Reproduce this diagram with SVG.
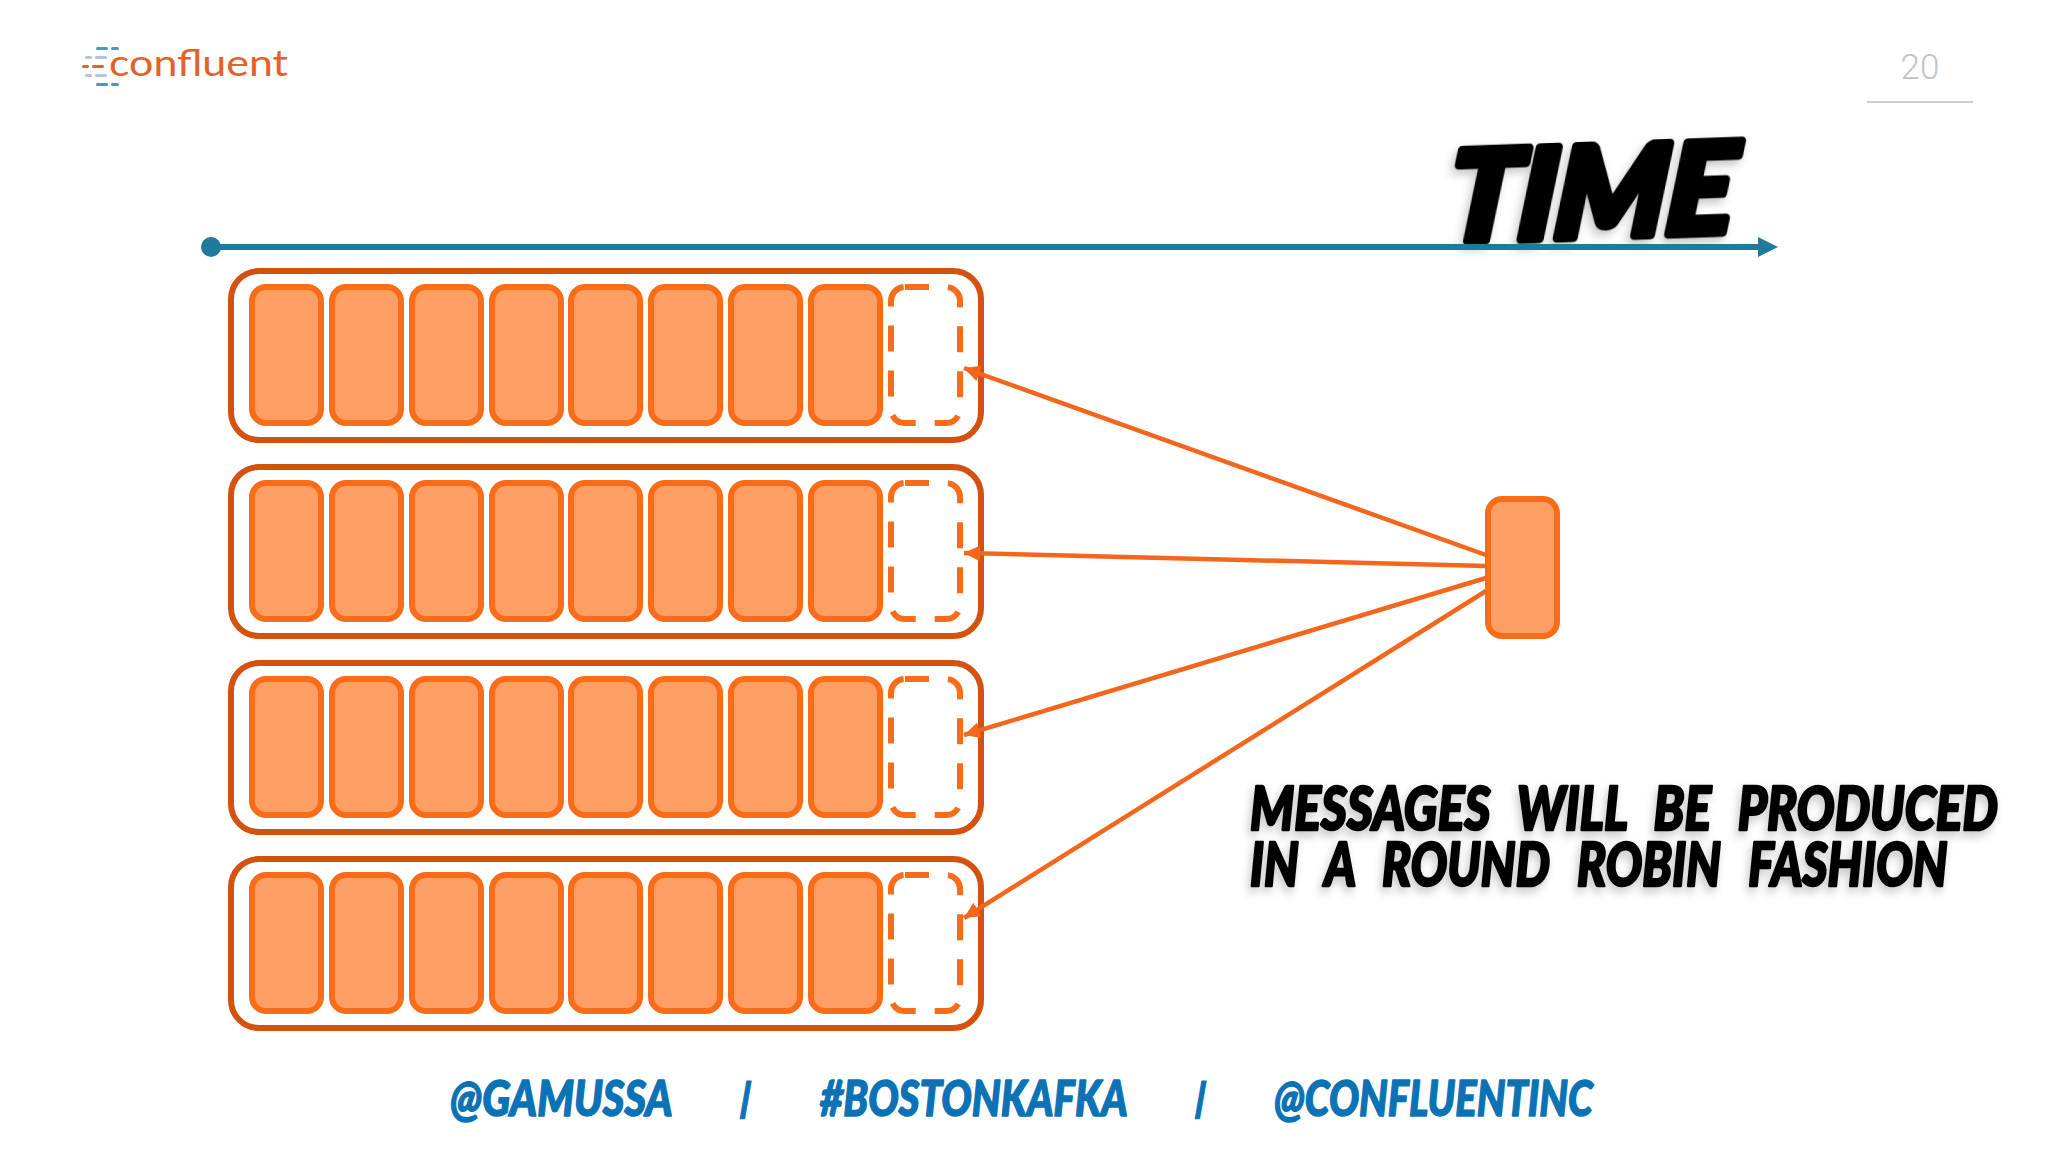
<svg xmlns="http://www.w3.org/2000/svg" width="2048" height="1152" viewBox="0 0 2048 1152">
<style>
.frame{fill:#fff;stroke:#d4520f;stroke-width:6}
.cell{fill:#fd9f63;stroke:#fb6c19;stroke-width:6}
.slot{fill:#fff;stroke:#fb6c19;stroke-width:6;stroke-dasharray:26 19;stroke-dashoffset:2}
.link{fill:none;stroke:#f4661c;stroke-width:4.5;marker-end:url(#ah)}
.comic{font-family:Lato,"Liberation Sans",sans-serif;font-weight:900;font-style:italic;stroke-linejoin:round;paint-order:stroke}
.black{fill:#000;stroke:#000;filter:url(#sh)}
.blue{fill:#0b72b5;stroke:#0b72b5;stroke-width:1.5;font-size:50px}
.slash{font-size:40px;stroke-width:1}
.msg{font-size:60px;stroke-width:2.5}
</style>
<defs>
<marker id="ah" markerUnits="userSpaceOnUse" markerWidth="18" markerHeight="16" refX="16" refY="8" orient="auto"><path d="M0 0L16 8L0 16Z" fill="#f4661c"/></marker>
<marker id="tah" markerUnits="userSpaceOnUse" markerWidth="21" markerHeight="21" refX="0" refY="10" orient="auto"><path d="M0 0L20 10L0 20Z" fill="#207a9c"/></marker>
<filter id="sh" x="-10%" y="-20%" width="120%" height="150%"><feDropShadow dx="-3" dy="5" stdDeviation="5" flood-color="#000" flood-opacity=".22"/></filter>
</defs>
<rect width="2048" height="1152" fill="#fff"/>
<g id="logo">
<g fill="#4a97c8"><rect x="96" y="47" width="12" height="3" rx="1.5"/><rect x="111" y="47" width="8" height="3" rx="1.5"/><rect x="96" y="83" width="12" height="3" rx="1.5"/><rect x="111" y="83" width="8" height="3" rx="1.5"/></g>
<g fill="#b3c4df"><rect x="85" y="56" width="7" height="3" rx="1.5"/><rect x="95" y="56" width="12" height="3" rx="1.5"/><rect x="85" y="74" width="7" height="3" rx="1.5"/><rect x="95" y="74" width="12" height="3" rx="1.5"/></g>
<g fill="#e2622a"><rect x="82" y="65" width="7" height="3" rx="1.5"/><rect x="92" y="65" width="12" height="3" rx="1.5"/></g>
<text x="109" y="76" font-family="Lato,sans-serif" font-weight="400" font-size="36" fill="#e2622a" textLength="179" lengthAdjust="spacingAndGlyphs">confluent</text>
</g>
<g id="page-number">
<text x="1920" y="79" text-anchor="middle" font-family="Roboto,sans-serif" font-weight="300" font-size="35" fill="#c4c4c4">20</text>
<line x1="1867" y1="102" x2="1973" y2="102" stroke="#cfcfcf" stroke-width="2"/>
</g>
<g id="time-label"><text class="comic black" transform="translate(1446 242) rotate(-2) skewX(-7)" font-size="125" stroke-width="9" textLength="286" lengthAdjust="spacingAndGlyphs">TIME</text></g>
<g id="time-axis">
<circle cx="211" cy="247" r="10" fill="#207a9c"/>
<line x1="211" y1="247" x2="1758" y2="247" stroke="#207a9c" stroke-width="6" marker-end="url(#tah)"/>
</g>
<g id="partition-1">
<rect class="frame" x="231" y="271" width="750" height="169" rx="28"/>
<rect class="cell" x="252" y="287" width="69" height="136" rx="14"/><rect class="cell" x="332" y="287" width="69" height="136" rx="14"/><rect class="cell" x="412" y="287" width="69" height="136" rx="14"/><rect class="cell" x="492" y="287" width="69" height="136" rx="14"/><rect class="cell" x="571" y="287" width="69" height="136" rx="14"/><rect class="cell" x="651" y="287" width="69" height="136" rx="14"/><rect class="cell" x="731" y="287" width="69" height="136" rx="14"/><rect class="cell" x="811" y="287" width="69" height="136" rx="14"/>
<rect class="slot" x="891" y="287" width="69" height="136" rx="14"/>
</g>
<g id="partition-2" transform="translate(0 196)">
<rect class="frame" x="231" y="271" width="750" height="169" rx="28"/>
<rect class="cell" x="252" y="287" width="69" height="136" rx="14"/><rect class="cell" x="332" y="287" width="69" height="136" rx="14"/><rect class="cell" x="412" y="287" width="69" height="136" rx="14"/><rect class="cell" x="492" y="287" width="69" height="136" rx="14"/><rect class="cell" x="571" y="287" width="69" height="136" rx="14"/><rect class="cell" x="651" y="287" width="69" height="136" rx="14"/><rect class="cell" x="731" y="287" width="69" height="136" rx="14"/><rect class="cell" x="811" y="287" width="69" height="136" rx="14"/>
<rect class="slot" x="891" y="287" width="69" height="136" rx="14"/>
</g>
<g id="partition-3" transform="translate(0 392)">
<rect class="frame" x="231" y="271" width="750" height="169" rx="28"/>
<rect class="cell" x="252" y="287" width="69" height="136" rx="14"/><rect class="cell" x="332" y="287" width="69" height="136" rx="14"/><rect class="cell" x="412" y="287" width="69" height="136" rx="14"/><rect class="cell" x="492" y="287" width="69" height="136" rx="14"/><rect class="cell" x="571" y="287" width="69" height="136" rx="14"/><rect class="cell" x="651" y="287" width="69" height="136" rx="14"/><rect class="cell" x="731" y="287" width="69" height="136" rx="14"/><rect class="cell" x="811" y="287" width="69" height="136" rx="14"/>
<rect class="slot" x="891" y="287" width="69" height="136" rx="14"/>
</g>
<g id="partition-4" transform="translate(0 588)">
<rect class="frame" x="231" y="271" width="750" height="169" rx="28"/>
<rect class="cell" x="252" y="287" width="69" height="136" rx="14"/><rect class="cell" x="332" y="287" width="69" height="136" rx="14"/><rect class="cell" x="412" y="287" width="69" height="136" rx="14"/><rect class="cell" x="492" y="287" width="69" height="136" rx="14"/><rect class="cell" x="571" y="287" width="69" height="136" rx="14"/><rect class="cell" x="651" y="287" width="69" height="136" rx="14"/><rect class="cell" x="731" y="287" width="69" height="136" rx="14"/><rect class="cell" x="811" y="287" width="69" height="136" rx="14"/>
<rect class="slot" x="891" y="287" width="69" height="136" rx="14"/>
</g>
<g id="producer"><rect class="cell" x="1488" y="499" width="69" height="137" rx="14"/></g>
<g id="connectors">
<line class="link" x1="1486" y1="555" x2="964" y2="368"/>
<line class="link" x1="1486" y1="566" x2="964" y2="553"/>
<line class="link" x1="1486" y1="578" x2="964" y2="735"/>
<line class="link" x1="1486" y1="591" x2="964" y2="918"/>
</g>
<g id="caption">
<text class="comic black msg" transform="translate(1250 830) scale(.8 1)" textLength="935" lengthAdjust="spacingAndGlyphs" word-spacing="19">MESSAGES WILL BE PRODUCED</text>
<text class="comic black msg" transform="translate(1250 886) scale(.8 1)" textLength="872" lengthAdjust="spacingAndGlyphs" word-spacing="21">IN A ROUND ROBIN FASHION</text>
</g>
<g id="footer">
<text class="comic blue" transform="translate(450 1116) scale(.85 1)" textLength="262" lengthAdjust="spacingAndGlyphs">@GAMUSSA</text>
<text class="comic blue slash" transform="translate(738 1112) skewX(-10)">|</text>
<text class="comic blue" transform="translate(820 1116) scale(.85 1)" textLength="362" lengthAdjust="spacingAndGlyphs">#BOSTONKAFKA</text>
<text class="comic blue slash" transform="translate(1193 1112) skewX(-10)">|</text>
<text class="comic blue" transform="translate(1274 1116) scale(.85 1)" textLength="375" lengthAdjust="spacingAndGlyphs">@CONFLUENTINC</text>
</g>
</svg>
